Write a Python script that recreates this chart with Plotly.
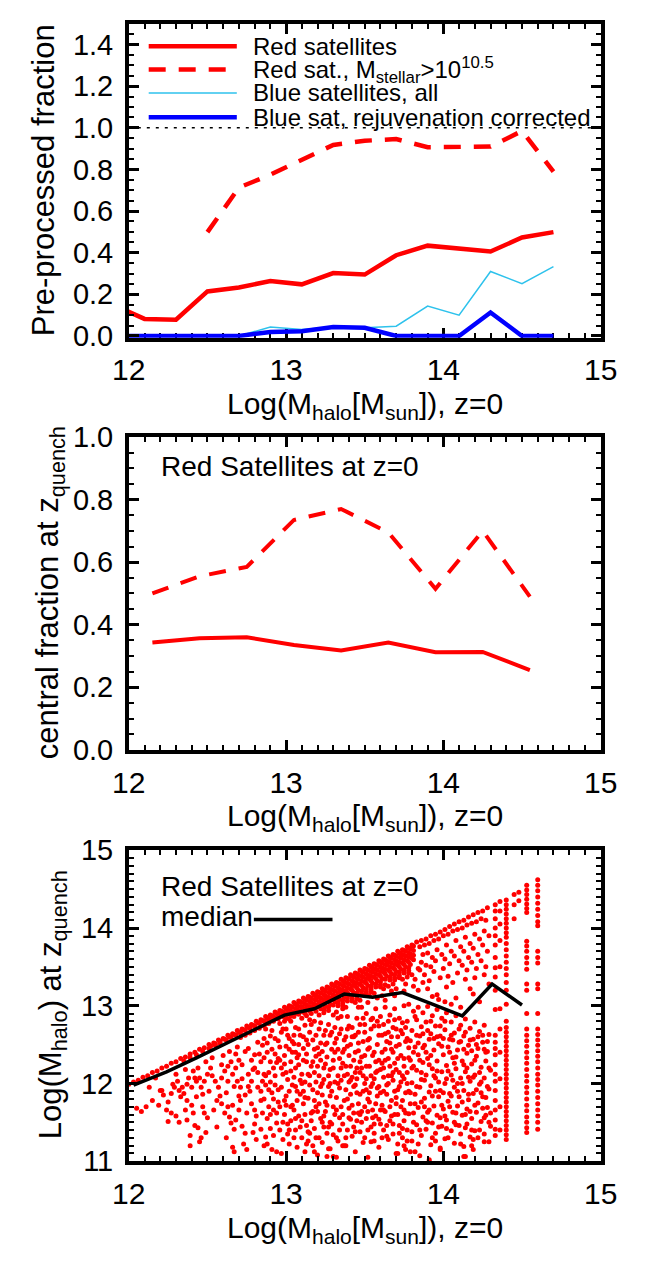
import plotly.graph_objects as go

FONT = "Liberation Sans, Arial, Helvetica, sans-serif"
RED = "#FF0000"
CYAN = "#2EC2EC"
BLUE = "#0000FF"

# ---------------- Panel 1: pre-processed fraction ----------------
halo_bins_p1 = [11.9, 12.1, 12.3, 12.5, 12.7, 12.9, 13.1, 13.3, 13.5, 13.7, 13.9, 14.1, 14.3, 14.5, 14.7]
red_sat_frac = [0.150, 0.082, 0.078, 0.214, 0.233, 0.264, 0.248, 0.302, 0.295, 0.388, 0.434, 0.419, 0.406, 0.473, 0.499]
red_massive_frac = [None, None, None, 0.499, 0.713, 0.775, 0.845, 0.918, 0.938, 0.946, 0.907, 0.907, 0.910, 0.985, 0.790]
blue_all_frac = [0.0, 0.0, 0.0, 0.0, 0.0, 0.043, 0.031, 0.043, 0.039, 0.047, 0.144, 0.100, 0.310, 0.251, 0.333]
blue_rejuv_frac = [0.0, 0.0, 0.0, 0.005, 0.0, 0.019, 0.023, 0.043, 0.039, 0.0, 0.0, 0.0, 0.113, 0.0, 0.0]
legend_labels_p1 = ["Red satellites",
                    "Red sat., M<sub>stellar</sub>&gt;10<sup>10.5</sup>",
                    "Blue satellites, all",
                    "Blue sat, rejuvenation corrected"]

# ---------------- Panel 2: central fraction at z_quench ----------------
halo_bins_p2 = [12.15, 12.45, 12.75, 13.05, 13.35, 13.65, 13.95, 14.25, 14.55]
central_frac_all = [0.343, 0.357, 0.360, 0.335, 0.318, 0.343, 0.312, 0.313, 0.255]
central_frac_massive = [0.500, 0.555, 0.585, 0.735, 0.770, 0.695, 0.515, 0.700, 0.490]

# ---------------- Panel 3: halo mass at z_quench ----------------
median_x = [12.03, 12.24, 12.43, 12.62, 12.80, 12.99, 13.18, 13.37, 13.55, 13.74, 13.93, 14.12, 14.31, 14.50]
median_y = [11.98, 12.15, 12.33, 12.52, 12.70, 12.88, 12.96, 13.15, 13.11, 13.17, 13.02, 12.87, 13.28, 13.01]

ridge_pts = [(12.00,11.99),(12.03,12.02),(12.06,12.04),(12.09,12.08),(12.12,12.10),(12.15,12.14),(12.18,12.16),
 (12.21,12.20),(12.24,12.22),(12.27,12.26),(12.30,12.28),(12.33,12.32),(12.36,12.34),(12.39,12.38),(12.42,12.40),
 (12.45,12.44),(12.48,12.46),(12.51,12.50),(12.54,12.52),(12.57,12.56),(12.60,12.58),(12.63,12.62),(12.66,12.64),
 (12.69,12.68),(12.72,12.70),(12.75,12.74),(12.78,12.76),(12.81,12.80),(12.84,12.82),(12.87,12.86),(12.90,12.88),
 (12.93,12.92),(12.96,12.94),(12.99,12.98),(13.02,13.00),(13.05,13.04),(13.08,13.06),(13.11,13.10),(13.14,13.12),
 (13.17,13.16),(13.20,13.18),(13.23,13.22),(13.26,13.24),(13.29,13.28),(13.32,13.30),(13.35,13.34),(13.38,13.36),
 (13.41,13.40),(13.44,13.42),(13.47,13.46),(13.50,13.48),(13.53,13.52),(13.56,13.54),(13.59,13.58),(13.62,13.60),
 (13.65,13.64),(13.68,13.66),(13.71,13.70),(13.74,13.72),(13.77,13.76),(13.80,13.78),(13.83,13.82)]

band_pts = [
 (12.35,12.29),(12.39,12.33),(12.43,12.37),(12.47,12.41),(12.51,12.45),(12.55,12.49),(12.58,12.52),(12.62,12.56),
 (12.65,12.59),(12.68,12.62),(12.71,12.65),(12.74,12.68),(12.77,12.71),(12.80,12.74),(12.83,12.77),(12.86,12.80),
 (12.89,12.83),(12.92,12.86),(12.95,12.89),(12.98,12.92),(13.01,12.95),(13.04,12.98),(13.07,13.01),(13.10,13.04),
 (13.13,13.07),(13.16,13.10),(13.19,13.13),(13.22,13.16),(13.25,13.19),(13.28,13.22),(13.31,13.25),(13.34,13.28),
 (13.37,13.31),(13.40,13.34),(13.43,13.37),(13.46,13.40),(13.49,13.43),(13.52,13.46),(13.55,13.49),(13.58,13.52),
 (13.61,13.55),(13.64,13.58),(13.67,13.61),(13.70,13.64),(13.73,13.67),(13.76,13.70),(13.79,13.73),
 (12.71,12.59),(12.74,12.62),(12.77,12.65),(12.80,12.68),(12.83,12.71),(12.86,12.74),(12.89,12.77),(12.92,12.80),
 (12.95,12.83),(12.98,12.86),(13.01,12.89),(13.04,12.92),(13.07,12.95),(13.10,12.98),(13.13,13.01),(13.16,13.04),
 (13.19,13.07),(13.22,13.10),(13.25,13.13),(13.28,13.16),(13.31,13.19),(13.34,13.22),(13.37,13.25),(13.40,13.28),
 (13.43,13.31),(13.46,13.34),(13.49,13.37),(13.52,13.40),(13.55,13.43),(13.58,13.46),(13.61,13.49),(13.64,13.52),
 (13.67,13.55),(13.70,13.58),(13.73,13.61),(13.76,13.64),(13.79,13.67),
 (12.96,12.77),(12.99,12.80),(13.02,12.83),(13.05,12.86),(13.08,12.89),(13.11,12.92),(13.14,12.95),(13.17,12.98),
 (13.20,13.01),(13.23,13.04),(13.26,13.07),(13.29,13.10),(13.32,13.13),(13.35,13.16),(13.38,13.19),(13.41,13.22),
 (13.44,13.25),(13.47,13.28),(13.50,13.31),(13.53,13.34),(13.56,13.37),(13.59,13.40),(13.62,13.43),(13.65,13.46),
 (13.68,13.49),(13.71,13.52),(13.74,13.55),(13.77,13.58),(13.80,13.61),
 (13.10,12.84),(13.13,12.87),(13.16,12.90),(13.19,12.93),(13.22,12.96),(13.25,12.99),(13.28,13.02),(13.31,13.05),
 (13.34,13.08),(13.37,13.11),(13.40,13.14),(13.43,13.17),(13.46,13.20),(13.49,13.23),(13.52,13.26),(13.55,13.29),
 (13.58,13.32),(13.61,13.35),(13.64,13.38),(13.67,13.41),(13.70,13.44),(13.73,13.47),(13.76,13.50),(13.79,13.53),
 (13.21,12.88),(13.24,12.91),(13.27,12.94),(13.33,13.00),(13.36,13.03),(13.39,13.06),(13.42,13.09),(13.48,13.15),
 (13.51,13.18),(13.54,13.21),(13.57,13.24),(13.60,13.27),(13.66,13.33),(13.69,13.36),(13.72,13.39),(13.75,13.42),
 (13.78,13.45),
 (13.32,12.92),(13.38,12.98),(13.44,13.04),(13.47,13.07),(13.53,13.13),(13.56,13.16),(13.62,13.22),(13.65,13.25),
 (13.68,13.28),(13.74,13.34),(13.77,13.37),(13.80,13.40),
 (13.46,12.98),(13.52,13.04),(13.58,13.10),(13.61,13.13),(13.67,13.19),(13.70,13.22),(13.76,13.28),(13.82,13.34),
 (13.63,13.07),(13.69,13.13),(13.75,13.19),(13.81,13.25)]

band_fill_pts = [
 (12.52,12.48),(12.55,12.51),(12.58,12.54),(12.61,12.57),(12.64,12.60),(12.67,12.63),(12.70,12.66),(12.73,12.69),
 (12.76,12.72),(12.79,12.75),(12.82,12.78),(12.85,12.81),(12.88,12.84),(12.91,12.87),(12.94,12.90),(12.97,12.93),
 (13.00,12.96),(13.03,12.99),(13.06,13.02),(13.09,13.05),(13.12,13.08),(13.15,13.11),(13.18,13.14),(13.21,13.17),
 (13.24,13.20),(13.27,13.23),(13.30,13.26),(13.33,13.29),(13.36,13.32),(13.39,13.35),(13.42,13.38),(13.45,13.41),
 (13.48,13.44),(13.51,13.47),(13.54,13.50),(13.57,13.53),(13.60,13.56),(13.63,13.59),(13.66,13.62),(13.69,13.65),
 (13.72,13.68),(13.75,13.71),(13.78,13.74),(13.81,13.77),
 (12.88,12.78),(12.91,12.81),(12.94,12.84),(12.97,12.87),(13.00,12.90),(13.03,12.93),(13.06,12.96),(13.09,12.99),
 (13.12,13.02),(13.15,13.05),(13.18,13.08),(13.21,13.11),(13.24,13.14),(13.27,13.17),(13.30,13.20),(13.33,13.23),
 (13.36,13.26),(13.39,13.29),(13.42,13.32),(13.45,13.35),(13.48,13.38),(13.51,13.41),(13.54,13.44),(13.57,13.47),
 (13.60,13.50),(13.63,13.53),(13.66,13.56),(13.69,13.59),(13.72,13.62),(13.75,13.65),(13.78,13.68),(13.81,13.71),
 (13.00,12.84),(13.03,12.87),(13.06,12.90),(13.09,12.93),(13.12,12.96),(13.15,12.99),(13.18,13.02),(13.21,13.05),
 (13.24,13.08),(13.27,13.11),(13.30,13.14),(13.33,13.17),(13.36,13.20),(13.39,13.23),(13.42,13.26),(13.45,13.29),
 (13.48,13.32),(13.51,13.35),(13.54,13.38),(13.57,13.41),(13.60,13.44),(13.63,13.47),(13.66,13.50),(13.69,13.53),
 (13.72,13.56),(13.75,13.59),(13.78,13.62),(13.81,13.65),
 (13.12,12.90),(13.15,12.93),(13.18,12.96),(13.21,12.99),(13.24,13.02),(13.27,13.05),(13.30,13.08),(13.33,13.11),
 (13.36,13.14),(13.39,13.17),(13.42,13.20),(13.45,13.23),(13.48,13.26),(13.51,13.29),(13.54,13.32),(13.57,13.35),
 (13.60,13.38),(13.63,13.41),(13.66,13.44),(13.69,13.47),(13.72,13.50),(13.75,13.53),(13.78,13.56),(13.81,13.59),
 (13.24,12.95),(13.27,12.98),(13.30,13.01),(13.33,13.04),(13.36,13.07),(13.39,13.10),(13.42,13.13),(13.45,13.16),
 (13.48,13.19),(13.51,13.22),(13.54,13.25),(13.57,13.28),(13.60,13.31),(13.63,13.34),(13.66,13.37),(13.69,13.40),
 (13.72,13.43),(13.75,13.46),(13.78,13.49),
 (13.36,13.00),(13.42,13.06),(13.45,13.09),(13.51,13.15),(13.54,13.18),(13.60,13.24),(13.63,13.27),(13.69,13.33),
 (13.72,13.36),(13.78,13.42),(13.84,13.48)]

low_pts_a = [
 (12.13,11.95),(12.17,12.07),(12.20,11.91),(12.15,11.78),(12.08,11.64),(12.05,11.68),(12.11,11.70),(12.19,11.72),
 (12.22,11.85),(12.25,11.76),(12.27,11.87),(12.29,11.95),(12.31,12.03),(12.30,12.12),(12.33,11.83),(12.34,11.95),
 (12.37,11.99),(12.38,12.07),(12.40,11.95),(12.43,12.03),(12.45,12.07),(12.46,11.95),(12.48,12.03),(12.50,12.12),
 (12.52,12.20),(12.49,12.28),(12.53,12.33),(12.55,12.03),(12.57,11.95),(12.56,11.78),(12.54,11.66),(12.59,12.07),
 (12.61,12.16),(12.63,12.03),(12.65,12.28),(12.66,12.12),(12.68,12.20),(12.69,12.03),(12.71,11.95),(12.72,12.24),
 (12.74,12.41),(12.76,12.12),(12.78,12.03),(12.80,12.20),(12.82,11.95),(12.84,12.28),(12.85,12.03),(12.86,12.12),
 (12.27,11.62),(12.24,11.66),(12.30,11.58),(12.25,11.51),(12.36,11.66),(12.37,11.53),(12.41,11.62),(12.47,11.70),
 (12.48,11.62),(12.49,11.37),(12.44,11.43),(12.39,11.33),(12.46,11.30),(12.59,11.74),(12.61,11.62),(12.63,11.70),
 (12.65,11.49),(12.67,11.41),(12.68,11.53),(12.70,11.66),(12.71,11.78),(12.74,11.85),(12.78,11.74),(12.80,11.66),
 (12.81,11.58),(12.84,11.78),(12.85,11.62),(12.66,11.18),(12.73,11.22),(12.79,11.37),(12.84,11.41),(12.43,11.83),
 (12.37,11.78),(12.21,11.91),(12.28,11.99),(12.32,11.91),(12.35,11.87),(12.41,12.16),(12.42,12.07),(12.59,12.24),
 (12.64,12.41),(12.69,12.47),(12.76,12.45),(12.80,12.37),(12.82,12.53),(12.85,12.49)]

low_pts_b = [
 (12.87,12.70),(12.88,12.52),(12.86,12.33),(12.87,12.10),(12.89,11.92),(12.86,11.80),(12.88,11.55),(12.87,11.31),
 (12.90,12.61),(12.91,12.44),(12.92,12.20),(12.90,12.02),(12.91,11.88),(12.92,11.66),(12.90,11.42),(12.91,11.15),
 (12.93,12.38),(12.94,12.27),(12.93,11.98),(12.95,11.76),(12.94,11.49),(12.95,12.55),
 (12.97,12.66),(12.96,12.30),(12.98,12.12),(12.97,11.95),(12.96,11.70),(12.98,11.28),(12.97,11.10),
 (13.00,12.48),(12.99,12.25),(13.01,12.05),(13.00,11.84),(12.99,11.60),(13.01,11.35),(13.00,12.70),
 (13.03,12.80),(13.02,12.58),(13.04,12.40),(13.03,12.16),(13.02,11.90),(13.04,11.72),(13.03,11.52),(13.02,11.22),
 (13.06,12.72),(13.05,12.51),(13.07,12.33),(13.06,12.20),(13.05,12.08),(13.06,11.96),(13.07,11.78),(13.05,11.66),
 (13.06,11.40),(13.07,11.18),(13.09,12.62),(13.08,12.37),(13.10,12.12),(13.09,11.86),(13.08,11.58),(13.10,11.30),
 (13.12,12.75),(13.11,12.45),(13.13,12.28),(13.12,12.02),(13.11,11.74),(13.13,11.46),(13.12,11.12),
 (13.15,12.66),(13.14,12.50),(13.16,12.22),(13.15,11.98),(13.14,11.81),(13.16,11.62),(13.15,11.36),
 (13.18,12.80),(13.17,12.56),(13.19,12.35),(13.18,12.14),(13.17,11.92),(13.19,11.70),(13.18,11.42),(13.17,11.20),
 (13.21,12.70),(13.20,12.46),(13.22,12.30),(13.21,12.10),(13.20,11.88),(13.22,11.55),(13.21,11.30),(13.20,11.08),
 (13.24,12.62),(13.23,12.41),(13.25,12.25),(13.24,12.05),(13.23,11.85),(13.25,11.64),(13.24,11.44),(13.23,11.24),
 (13.27,12.76),(13.26,12.52),(13.28,12.18),(13.27,11.96),(13.26,11.72),(13.28,11.50),(13.27,11.16),
 (13.30,12.88),(13.29,12.66),(13.31,12.40),(13.30,12.20),(13.29,11.90),(13.31,11.60),(13.30,11.34)]

low_pts_c = [
 (13.33,12.84),(13.32,12.58),(13.34,12.32),(13.33,12.10),(13.32,11.82),(13.34,11.56),(13.33,11.26),(13.32,11.05),
 (13.36,12.96),(13.35,12.70),(13.37,12.44),(13.36,12.26),(13.35,12.04),(13.37,11.78),(13.36,11.48),
 (13.39,12.86),(13.38,12.60),(13.40,12.36),(13.39,12.12),(13.38,11.92),(13.40,11.68),(13.39,11.40),(13.38,11.20),
 (13.42,12.72),(13.41,12.50),(13.43,12.30),(13.42,12.08),(13.41,11.86),(13.43,11.62),(13.42,11.32),
 (13.45,12.84),(13.44,12.62),(13.46,12.42),(13.45,12.20),(13.44,11.98),(13.46,11.74),(13.45,11.52),(13.44,11.12),
 (13.48,12.98),(13.47,12.76),(13.49,12.54),(13.48,12.34),(13.47,12.14),(13.49,11.90),(13.48,11.64),(13.47,11.38),
 (13.51,12.90),(13.50,12.66),(13.52,12.44),(13.51,12.22),(13.50,12.00),(13.52,11.80),(13.51,11.55),(13.50,11.30),
 (13.52,11.05),(13.54,12.82),(13.53,12.58),(13.55,12.36),(13.54,12.10),(13.53,11.88),(13.55,11.66),(13.54,11.44),
 (13.57,12.96),(13.56,12.74),(13.58,12.50),(13.57,12.28),(13.56,12.06),(13.58,11.84),(13.57,11.58),(13.56,11.26),
 (13.60,12.86),(13.59,12.62),(13.61,12.40),(13.60,12.18),(13.59,11.96),(13.61,11.72),(13.60,11.48),(13.59,11.18),
 (13.63,12.98),(13.62,12.76),(13.64,12.54),(13.63,12.30),(13.62,12.08),(13.64,11.86),(13.63,11.64),(13.62,11.40),
 (13.66,12.88),(13.65,12.66),(13.67,12.44),(13.66,12.22),(13.65,12.00),(13.67,11.78),(13.66,11.52),(13.65,11.28),
 (13.69,12.96),(13.68,12.72),(13.70,12.48),(13.69,12.26),(13.68,12.04),(13.70,11.82),(13.69,11.60),(13.68,11.35),
 (13.70,11.10),(13.72,12.84),(13.71,12.60),(13.73,12.36),(13.72,12.14),(13.71,11.92),(13.73,11.70),(13.72,11.46),
 (13.71,11.22),(13.75,13.00),(13.74,12.78),(13.76,12.54),(13.75,12.32),(13.74,12.10),(13.76,11.88),(13.75,11.66),
 (13.74,11.42),(13.76,11.15)]

low_pts_d = [
 (13.78,13.02),(13.77,12.80),(13.79,12.55),(13.78,12.33),(13.77,12.14),(13.79,11.88),(13.78,11.61),(13.77,11.40),
 (13.79,11.12),(13.81,12.93),(13.80,12.68),(13.82,12.47),(13.81,12.22),(13.80,12.01),(13.82,11.74),(13.81,11.50),
 (13.80,11.26),(13.84,12.98),(13.83,12.82),(13.85,12.61),(13.84,12.37),(13.83,12.17),(13.85,11.95),(13.84,11.69),
 (13.83,11.47),(13.85,11.07),(13.87,12.91),(13.86,12.73),(13.88,12.49),(13.87,12.27),(13.86,12.05),(13.88,11.81),
 (13.87,11.57),(13.86,11.33),(13.90,12.99),(13.89,12.79),(13.91,12.57),(13.90,12.32),(13.89,12.11),(13.91,11.89),
 (13.90,11.63),(13.89,11.41),(13.93,12.87),(13.92,12.64),(13.94,12.43),(13.93,12.19),(13.92,11.97),(13.94,11.71),
 (13.93,11.49),(13.92,11.21),(13.91,11.02),(13.96,12.95),(13.95,12.74),(13.97,12.51),(13.96,12.29),(13.95,12.07),
 (13.97,11.83),(13.96,11.59),(13.95,11.36),(13.99,12.84),(13.98,12.61),(14.00,12.37),(13.99,12.15),(13.98,11.91),
 (14.00,11.67),(13.99,11.45),(13.98,11.17),(14.02,12.91),(14.01,12.69),(14.03,12.47),(14.02,12.23),(14.01,12.00),
 (14.03,11.77),(14.02,11.53),(14.01,11.29),(14.05,12.79),(14.04,12.57),(14.06,12.33),(14.05,12.11),(14.04,11.87),
 (14.06,11.63),(14.05,11.39),(14.08,12.87),(14.07,12.65),(14.09,12.43),(14.08,12.19),(14.07,11.95),(14.09,11.71),
 (14.08,11.47),(14.07,11.23),(14.11,12.75),(14.10,12.53),(14.12,12.29),(14.11,12.07),(14.10,11.83),(14.12,11.59),
 (14.11,11.35),(14.14,12.83),(14.13,12.61),(14.15,12.39),(14.14,12.15),(14.13,11.91),(14.15,11.67),(14.14,11.43),
 (14.13,11.19),(14.14,11.06),(14.17,12.71),(14.16,12.49),(14.18,12.25),(14.17,12.03),(14.16,11.79),(14.18,11.55),
 (14.17,11.31),(14.20,12.79),(14.19,12.57),(14.21,12.35),(14.20,12.11),(14.19,11.87),(14.21,11.63),(14.20,11.39),
 (14.19,11.15),(14.23,12.67),(14.22,12.45),(14.24,12.21),(14.23,11.99),(14.22,11.75),(14.24,11.51),
 (14.26,12.75),(14.25,12.53),(14.27,12.29),(14.26,12.07),(14.25,11.83),(14.27,11.59),(14.26,11.35),
 (14.29,12.63),(14.28,12.41),(14.30,12.17),(14.29,11.93),(14.28,11.69),(14.30,11.45),(14.29,11.25)]

low_pts_e = [
 (12.62,11.88),(12.64,11.57),(12.67,11.96),(12.70,12.30),(12.72,11.45),(12.75,11.62),(12.77,11.90),(12.79,12.18),
 (12.81,11.28),(12.83,12.38),(12.88,12.40),(12.89,11.70),(12.90,12.28),(12.92,11.33),(12.93,12.58),(12.95,11.92),
 (12.96,12.47),(12.98,11.50),(12.99,12.36),(13.00,11.72),(13.01,12.62),(13.02,11.40),(13.03,12.28),(13.04,11.98),
 (13.05,12.62),(13.06,11.55),(13.08,12.50),(13.08,12.24),(13.09,11.44),(13.10,12.00),(13.11,12.60),(13.11,11.90),
 (13.12,11.60),(13.13,12.38),(13.14,11.26),(13.14,12.12),(13.15,12.82),(13.16,11.52),(13.17,12.28),(13.18,11.78),
 (13.19,12.62),(13.19,12.02),(13.20,11.64),(13.21,12.38),(13.22,11.96),(13.22,12.78),(13.23,11.50),(13.24,12.20),
 (13.25,11.76),(13.25,12.50),(13.26,11.36),(13.27,12.10),(13.28,12.62),(13.28,11.84),(13.29,11.48),(13.30,12.30),
 (13.30,11.06)]

low_pts_f = [
 (13.31,12.02),(13.31,12.72),(13.32,11.66),(13.33,12.44),(13.34,11.94),(13.34,11.40),(13.35,12.20),(13.35,12.86),
 (13.36,11.60),(13.37,12.10),(13.37,12.56),(13.38,11.30),(13.39,11.80),(13.39,12.48),(13.40,12.02),(13.40,12.74),
 (13.41,11.54),(13.41,12.22),(13.42,11.72),(13.43,12.60),(13.43,11.96),(13.44,12.40),(13.44,11.38),(13.45,12.06),
 (13.46,11.62),(13.46,12.66),(13.47,11.86),(13.47,12.28),(13.48,11.50),(13.49,12.10),(13.49,12.84),(13.50,11.70),
 (13.50,12.36),(13.51,11.92),(13.52,12.56),(13.52,11.40),(13.53,12.22),(13.53,11.76),(13.54,12.70),(13.55,11.56),
 (13.55,12.00),(13.56,12.40),(13.56,11.36),(13.57,11.74),(13.58,12.16),(13.58,12.80),(13.59,11.54),(13.59,12.30),
 (13.60,11.88),(13.61,12.62),(13.61,11.30),(13.62,12.20),(13.62,11.66),(13.63,12.44),(13.64,11.98),(13.64,11.46),
 (13.65,12.80),(13.65,12.32),(13.66,11.70),(13.67,12.10),(13.67,12.60),(13.68,11.48),(13.68,12.40),(13.69,11.90),
 (13.70,12.70),(13.70,12.18),(13.71,11.60),(13.72,12.50),(13.72,11.36),(13.73,12.02),(13.74,12.64),(13.74,11.78),
 (13.75,12.22),(13.75,11.52),(13.76,12.72),(13.77,12.00),(13.77,11.26),(13.78,12.46),(13.79,11.74)]

low_pts_g = [
 (13.80,12.20),(13.81,11.62),(13.82,12.86),(13.83,11.96),(13.84,12.52),(13.85,11.40),(13.86,12.14),(13.87,12.64),
 (13.88,11.70),(13.89,12.40),(13.90,11.50),(13.91,12.24),(13.92,12.80),(13.93,11.84),(13.94,12.10),(13.95,11.26),
 (13.96,12.60),(13.97,12.02),(13.98,11.56),(13.99,12.48),(14.00,11.88),(14.01,12.80),(14.02,11.42),(14.03,12.16),
 (14.04,11.70),(14.05,12.62),(14.06,12.04),(14.07,11.50),(14.08,12.34),(14.09,11.90),(14.10,12.70),(14.11,11.22),
 (14.12,12.00),(14.13,12.44),(14.14,11.60),(14.15,12.20),(14.16,11.86),(14.17,12.56),(14.18,11.40),(14.19,12.08),
 (14.20,11.72),(14.21,12.50),(14.22,11.30),(14.23,12.14),(14.24,11.88),(14.25,12.62),(14.26,11.56),(14.27,12.40),
 (14.28,11.96),(14.29,12.20),(14.30,11.62)]

low_pts_h = [
 (12.86,12.58),(12.87,11.98),(12.88,11.22),(12.89,12.14),(12.90,11.60),(12.91,12.68),(12.92,11.80),(12.93,12.10),
 (12.94,11.62),(12.95,12.32),(12.96,11.40),(12.97,12.20),(12.98,12.70),(12.99,11.78),(13.00,12.14),(13.01,11.48),
 (13.02,12.44),(13.03,11.70),(13.04,12.54),(13.05,11.30),(13.06,12.40),(13.07,11.90),(13.08,12.70),(13.09,12.04),
 (13.10,11.52),(13.11,12.30),(13.12,11.82),(13.13,12.56),(13.14,11.38),(13.15,12.10),(13.16,12.76),(13.17,11.64),
 (13.18,12.44),(13.19,11.30),(13.20,12.22),(13.21,11.74),(13.22,12.52),(13.23,12.00),(13.24,11.58),(13.25,12.68),
 (13.26,12.34),(13.27,11.44),(13.28,12.00),(13.29,12.44),(13.30,11.70)]

low_pts_i = [
 (13.31,12.52),(13.32,11.30),(13.33,12.00),(13.34,12.64),(13.35,11.70),(13.36,12.40),(13.37,11.20),(13.38,12.22),
 (13.39,12.70),(13.40,11.56),(13.41,12.04),(13.42,12.60),(13.43,11.44),(13.44,12.14),(13.45,11.88),(13.46,12.52),
 (13.47,11.60),(13.48,12.20),(13.49,11.24),(13.50,12.76),(13.51,12.06),(13.52,11.64),(13.53,12.46),(13.54,11.96),
 (13.55,12.84),(13.56,11.48),(13.57,12.14),(13.58,11.94),(13.59,12.74),(13.60,11.66),(13.61,12.26),(13.62,11.90),
 (13.63,12.64),(13.64,11.32),(13.65,12.10),(13.66,12.52),(13.67,11.58),(13.68,12.14),(13.69,12.82),(13.70,11.74),
 (13.71,12.32),(13.72,11.96),(13.73,12.68),(13.74,11.30),(13.75,12.06),(13.76,11.62),(13.77,12.58),(13.78,11.90),
 (13.79,12.30)]

low_pts_j = [
 (13.80,11.38),(13.81,12.40),(13.82,11.86),(13.83,12.62),(13.84,11.22),(13.85,12.30),(13.86,11.76),(13.87,12.46),
 (13.88,12.04),(13.89,11.52),(13.90,12.68),(13.91,11.66),(13.92,12.36),(13.93,11.30),(13.94,12.58),(13.95,11.90),
 (13.96,12.16),(13.97,11.44),(13.98,12.74),(13.99,11.72),(14.00,12.58),(14.01,11.58),(14.02,12.06),(14.03,11.30),
 (14.04,12.40),(14.05,11.84),(14.06,12.56),(14.07,12.26),(14.08,11.62),(14.09,12.00),(14.10,11.46),(14.11,12.54),
 (14.12,11.76),(14.13,12.24),(14.14,12.66),(14.15,11.48),(14.16,12.08),(14.17,11.64),(14.18,12.42),(14.19,11.28),
 (14.20,12.30),(14.21,11.92),(14.22,12.60),(14.23,11.40),(14.24,12.02),(14.25,11.68),(14.26,12.44),(14.27,11.82),
 (14.28,12.54),(14.29,11.50)]

low_pts_k = [
 (12.32,11.50),(12.36,12.18),(12.40,11.72),(12.42,11.46),(12.44,12.20),(12.47,11.86),(12.50,11.56),(12.51,11.90),
 (12.53,12.10),(12.56,11.44),(12.58,11.84),(12.60,12.36),(12.62,11.30),(12.63,12.22),(12.66,11.72),(12.68,12.38),
 (12.70,11.84),(12.72,12.06),(12.74,11.36),(12.76,11.96),(12.78,12.30),(12.80,11.48),(12.82,12.14),(12.84,11.90)]

bottom_pts = [(12.39,11.20),(12.45,11.25),(12.67,11.12),(12.75,11.15),(12.86,11.20),(12.94,11.12),(13.13,11.22),
 (13.18,11.12),(13.26,11.06),(13.28,11.16),(13.36,11.20),(13.54,11.25),(13.71,11.10),(13.75,11.20),(13.82,11.12),
 (13.91,11.00),(13.98,11.15),(14.13,11.06),(14.18,11.20),(14.26,11.25)]

upper_pts = [
 (13.86,13.84),(13.85,13.76),(13.87,13.66),(13.86,13.56),(13.85,13.46),(13.87,13.30),(13.84,13.20),
 (13.89,13.86),(13.88,13.78),(13.90,13.68),(13.89,13.52),(13.88,13.40),(13.90,13.22),
 (13.92,13.90),(13.91,13.80),(13.93,13.62),(13.92,13.50),(13.91,13.32),(13.93,13.12),
 (13.95,13.92),(13.94,13.84),(13.96,13.72),(13.95,13.58),(13.94,13.44),(13.96,13.14),
 (13.98,13.95),(13.97,13.86),(13.99,13.66),(13.98,13.36),(13.97,13.08),
 (14.01,13.98),(14.00,13.90),(14.02,13.78),(14.01,13.60),(14.00,13.48),(14.02,13.24),(14.01,13.05),
 (14.04,14.02),(14.03,13.92),(14.05,13.70),(14.04,13.54),(14.03,13.38),(14.05,13.02),
 (14.07,14.05),(14.06,13.96),(14.08,13.84),(14.07,13.64),(14.06,13.30),(14.08,13.10),
 (14.10,14.08),(14.09,13.98),(14.11,13.76),(14.10,13.58),(14.09,13.42),(14.11,12.98),
 (14.13,14.10),(14.12,14.00),(14.14,13.88),(14.13,13.70),(14.12,13.52),(14.14,13.34),
 (14.16,14.14),(14.15,14.04),(14.17,13.80),(14.16,13.62),(14.15,13.46),(14.17,13.22),
 (14.19,14.17),(14.18,14.06),(14.20,13.92),(14.19,13.74),(14.18,13.56),(14.20,13.36),(14.19,13.15),
 (14.22,14.20),(14.21,14.08),(14.23,13.86),(14.22,13.66),(14.21,13.48),(14.23,13.05),
 (14.25,14.22),(14.24,14.12),(14.26,13.96),(14.25,13.78),(14.24,13.58),(14.26,13.40),
 (14.28,14.26),(14.27,14.10),(14.29,13.90),(14.28,13.70),(14.27,13.50),(14.29,13.28),
 (14.36,14.34),(14.36,14.22),(14.36,14.05),(14.36,13.84),(14.36,13.50),(14.36,12.96),(14.36,12.70),(14.36,12.40),
 (14.36,12.06),(14.36,11.70),(14.36,11.40),(14.45,14.43),(14.45,14.30),(14.45,14.12),(14.48,14.46),(14.48,14.35)]

column_x = [14.33, 14.40, 14.53, 14.60]
column_y = [
 [14.30, 14.22, 14.12, 14.00, 13.90, 13.78, 13.62, 13.49, 13.37, 13.20, 12.95, 12.62, 12.53, 12.45, 12.37, 12.24,
  12.12, 12.03, 11.91, 11.78, 11.66, 11.53, 11.41, 11.33],
 [14.36, 14.30, 14.24, 14.18, 14.12, 14.06, 14.00, 13.94, 13.88, 13.80, 13.72, 13.64, 13.56, 13.48, 13.40, 13.30,
  13.20, 13.02, 12.80, 12.72, 12.66, 12.60, 12.54, 12.48, 12.42, 12.36, 12.30, 12.24, 12.18, 12.12, 12.06, 12.00,
  11.94, 11.88, 11.82, 11.76, 11.70, 11.64, 11.58, 11.52, 11.46, 11.40, 11.34, 11.28],
 [14.55, 14.49, 14.43, 14.37, 14.31, 14.25, 14.20, 13.83, 13.77, 13.70, 13.62, 13.55, 13.47, 13.28, 13.20, 12.90,
  12.70, 12.62, 12.55, 12.48, 12.40, 12.33, 12.26, 12.18, 12.10, 12.03, 11.95, 11.88, 11.80, 11.72, 11.65, 11.57,
  11.50, 11.43, 11.37],
 [14.62, 14.55, 14.48, 14.40, 14.32, 14.24, 14.16, 14.08, 14.03, 13.70, 13.62, 13.55, 13.28, 13.22, 12.90, 12.70,
  12.63, 12.56, 12.49, 12.42, 12.35, 12.28, 12.20, 12.12, 12.05, 11.98, 11.90, 11.82, 11.74, 11.66, 11.58, 11.50,
  11.41]]

# ---------------- build scatter ----------------
all_pts = (ridge_pts + band_pts + band_fill_pts + low_pts_a + low_pts_b + low_pts_c + low_pts_d
           + low_pts_e + low_pts_f + low_pts_g + low_pts_h + low_pts_i + low_pts_j + low_pts_k
           + bottom_pts + upper_pts)
sat_x = [p[0] for p in all_pts]
sat_y = [p[1] for p in all_pts]
for cx, ys in zip(column_x, column_y):
    sat_x += [cx] * len(ys)
    sat_y += ys

W, H = 647, 1261
PX_L, PX_R = 118, 616
P1 = (8, 330)
P2 = (432, 753)
P3 = (856, 1175)


def ydom(p):
    return [1 - p[1] / H, 1 - p[0] / H]


def px(x):
    return x / W


def py(y):
    return 1 - y / H


fig = go.Figure()

# Panel 1
fig.add_trace(go.Scatter(x=halo_bins_p1, y=red_sat_frac, mode="lines", line=dict(color=RED, width=4.5),
                         xaxis="x", yaxis="y", showlegend=False, hoverinfo="skip"))
fig.add_trace(go.Scatter(x=halo_bins_p1, y=red_massive_frac, mode="lines",
                         line=dict(color=RED, width=4.5, dash="17px,13px"),
                         xaxis="x", yaxis="y", showlegend=False, hoverinfo="skip"))
fig.add_trace(go.Scatter(x=halo_bins_p1, y=blue_all_frac, mode="lines", line=dict(color=CYAN, width=1.5),
                         xaxis="x", yaxis="y", showlegend=False, hoverinfo="skip"))
fig.add_trace(go.Scatter(x=halo_bins_p1, y=blue_rejuv_frac, mode="lines", line=dict(color=BLUE, width=4.5),
                         xaxis="x", yaxis="y", showlegend=False, hoverinfo="skip"))

# Panel 2
fig.add_trace(go.Scatter(x=halo_bins_p2, y=central_frac_all, mode="lines", line=dict(color=RED, width=4),
                         xaxis="x2", yaxis="y2", showlegend=False, hoverinfo="skip"))
fig.add_trace(go.Scatter(x=halo_bins_p2, y=central_frac_massive, mode="lines",
                         line=dict(color=RED, width=4, dash="17px,13px"),
                         xaxis="x2", yaxis="y2", showlegend=False, hoverinfo="skip"))

# Panel 3
fig.add_trace(go.Scatter(x=sat_x, y=sat_y, mode="markers", marker=dict(color=RED, size=5, line=dict(width=0)),
                         xaxis="x3", yaxis="y3", showlegend=False, hoverinfo="skip"))
fig.add_trace(go.Scatter(x=median_x, y=median_y, mode="lines", line=dict(color="black", width=3.5),
                         xaxis="x3", yaxis="y3", showlegend=False, hoverinfo="skip"))

xtickfont = dict(family=FONT, size=30, color="black")
ytickfont = dict(family=FONT, size=29, color="black")


def xaxis(anchor):
    return dict(domain=[px(PX_L), px(PX_R)], anchor=anchor, range=[12, 15], tick0=12, dtick=1,
                showline=True, linewidth=3.5, linecolor="black", mirror="ticks",
                ticks="inside", ticklen=10, tickwidth=3, tickcolor="black",
                minor=dict(ticks="inside", ticklen=5, tickwidth=2, tickcolor="black", dtick=0.1, tick0=12),
                showgrid=False, zeroline=False, tickfont=xtickfont, ticklabelstandoff=3)


def yaxis(anchor, p, rng, tick0, dtick, mdtick, fmt):
    return dict(domain=ydom(p), anchor=anchor, range=rng, tick0=tick0, dtick=dtick, tickformat=fmt,
                showline=True, linewidth=3.5, linecolor="black", mirror="ticks",
                ticks="inside", ticklen=10, tickwidth=3, tickcolor="black",
                minor=dict(ticks="inside", ticklen=5, tickwidth=2, tickcolor="black", dtick=mdtick, tick0=tick0),
                showgrid=False, zeroline=False, tickfont=ytickfont, ticklabelstandoff=6)


xa1 = xaxis("y")
xa1["layer"] = "below traces"
fig.update_layout(
    width=W, height=H, autosize=False,
    margin=dict(l=0, r=0, t=0, b=0),
    paper_bgcolor="white", plot_bgcolor="white",
    font=dict(family=FONT, color="black"),
    xaxis=xa1,
    yaxis=yaxis("x", P1, [-0.008, 1.5], 0, 0.2, 0.05, ".1f"),
    xaxis2=xaxis("y2"),
    yaxis2=yaxis("x2", P2, [0, 1.0], 0, 0.2, 0.05, ".1f"),
    xaxis3=xaxis("y3"),
    yaxis3=yaxis("x3", P3, [11, 15], 11, 1, 0.1, "d"),
)

shapes = []
ann = []

shapes.append(dict(type="line", xref="x domain", yref="y", x0=0, x1=1, y0=1.0, y1=1.0,
                   line=dict(color="black", width=1.5, dash="3px,6px")))

leg_rows = [31, 55, 79, 104]
leg_styles = [dict(color=RED, width=4.5), dict(color=RED, width=4.5, dash="17px,13px"),
              dict(color=CYAN, width=1.5), dict(color=BLUE, width=4.5)]
for row, st, lab in zip(leg_rows, leg_styles, legend_labels_p1):
    shapes.append(dict(type="line", xref="paper", yref="paper", x0=px(139), x1=px(232), y0=py(row), y1=py(row),
                       line=st))
    ann.append(dict(xref="paper", yref="paper", x=px(247), y=py(row), text=lab, showarrow=False,
                    xanchor="left", yanchor="middle", font=dict(family=FONT, size=24, color="black")))

xt = "Log(M<sub>halo</sub>[M<sub>sun</sub>]), z=0"
for yc in [400, 822, 1245]:
    ann.append(dict(xref="paper", yref="paper", x=px(367), y=py(yc), text=xt, showarrow=False,
                    xanchor="center", yanchor="middle", font=dict(family=FONT, size=30, color="black")))

ann.append(dict(xref="paper", yref="paper", x=px(28), y=py(169), text="Pre-processed fraction", showarrow=False,
                textangle=-90, xanchor="center", yanchor="middle", font=dict(family=FONT, size=31, color="black")))
ann.append(dict(xref="paper", yref="paper", x=px(35), y=py(592), text="central fraction at z<sub>quench</sub>",
                showarrow=False, textangle=-90, xanchor="center", yanchor="middle",
                font=dict(family=FONT, size=31, color="black")))
ann.append(dict(xref="paper", yref="paper", x=px(38), y=py(1015), text="Log(M<sub>halo</sub>) at z<sub>quench</sub>",
                showarrow=False, textangle=-90, xanchor="center", yanchor="middle",
                font=dict(family=FONT, size=31, color="black")))

ann.append(dict(xref="paper", yref="paper", x=px(150), y=py(462), text="Red Satellites at z=0", showarrow=False,
                xanchor="left", yanchor="middle", font=dict(family=FONT, size=28, color="black")))
ann.append(dict(xref="paper", yref="paper", x=px(150), y=py(893), text="Red Satellites at z=0", showarrow=False,
                xanchor="left", yanchor="middle", font=dict(family=FONT, size=28, color="black")))
ann.append(dict(xref="paper", yref="paper", x=px(150), y=py(924), text="median", showarrow=False,
                xanchor="left", yanchor="middle", font=dict(family=FONT, size=28, color="black")))
shapes.append(dict(type="line", xref="paper", yref="paper", x0=px(250), x1=px(333), y0=py(927), y1=py(927),
                   line=dict(color="black", width=3.5)))

fig.update_layout(shapes=shapes, annotations=ann)

fig.write_html("out.html", config=dict(displayModeBar=False),
               post_script="document.body.style.margin='0';document.body.style.overflow='hidden';")
